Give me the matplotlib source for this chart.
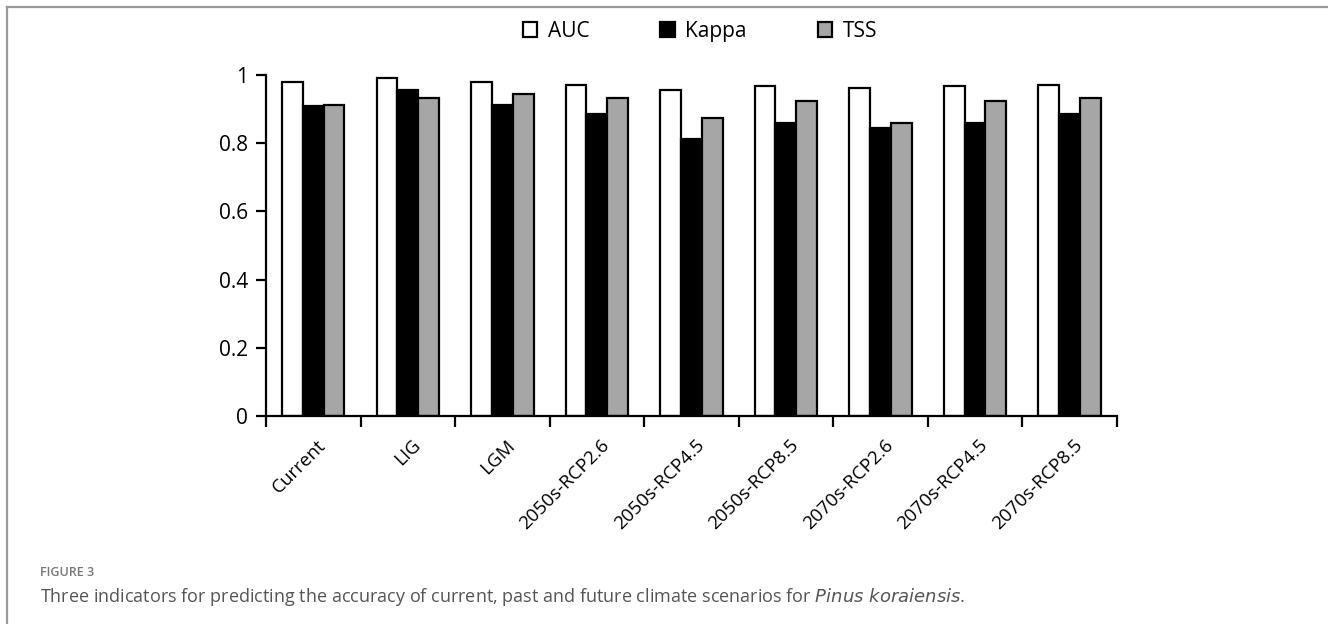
import numpy as np
import matplotlib
matplotlib.use("Agg")
import matplotlib.pyplot as plt
from matplotlib.patches import Rectangle
from matplotlib.lines import Line2D

scenarios = ["Current", "LIG", "LGM", "2050s-RCP2.6", "2050s-RCP4.5", "2050s-RCP8.5",
             "2070s-RCP2.6", "2070s-RCP4.5", "2070s-RCP8.5"]
auc = [0.981, 0.991, 0.979, 0.971, 0.957, 0.968, 0.962, 0.968, 0.973]
kappa = [0.911, 0.957, 0.912, 0.885, 0.814, 0.860, 0.846, 0.860, 0.885]
tss = [0.912, 0.932, 0.944, 0.934, 0.875, 0.924, 0.861, 0.924, 0.934]
series_names = ["AUC", "Kappa", "TSS"]
y_ticks = [0, 0.2, 0.4, 0.6, 0.8, 1]
y_tick_labels = ["0", "0.2", "0.4", "0.6", "0.8", "1"]

plt.rcParams['font.family'] = ['Open Sans', 'DejaVu Sans']

fig = plt.figure(figsize=(13.28, 6.24), dpi=100)
ax = fig.add_axes([0.2003, 0.3338, 0.6406, 0.5455])

x = np.arange(len(scenarios)) + 0.5
w = 0.22
colors = ["white", "black", "#a6a6a6"]
for k, vals in enumerate([auc, kappa, tss]):
    ax.bar(x + (k - 1) * w, vals, width=w, color=colors[k], edgecolor="black",
           linewidth=1.6, label=series_names[k], zorder=2)

ax.set_xlim(0, len(scenarios))
ax.set_ylim(0, 1)
ax.spines["top"].set_visible(False)
ax.spines["right"].set_visible(False)
for s in ["left", "bottom"]:
    ax.spines[s].set_linewidth(1.6)

ax.set_yticks(y_ticks)
ax.set_yticklabels(y_tick_labels, fontsize=15)
ax.tick_params(axis="y", direction="out", length=7, width=1.6, pad=6)

ax.set_xticks(np.arange(len(scenarios) + 1))
ax.set_xticklabels([])
ax.tick_params(axis="x", direction="out", length=8, width=1.6)
for xi, lab in zip(x, scenarios):
    ax.text(xi + 0.04, -0.06, lab, rotation=45, ha="right", va="top",
            rotation_mode="anchor", fontsize=13.5, transform=ax.transData)

handles = [Rectangle((0, 0), 1, 1, facecolor=c, edgecolor="black", linewidth=1.6)
           for c in colors]
fig.legend(handles, series_names, loc="center", bbox_to_anchor=(0.527, 0.95),
           ncol=3, frameon=False, fontsize=15, handlelength=0.7, handleheight=0.7,
           handletextpad=0.5, columnspacing=3.4)

# figure frame and caption
fig.add_artist(Line2D([0.0053, 0.0053], [0, 0.9888], color="#999999", linewidth=1.6,
                      transform=fig.transFigure))
fig.add_artist(Line2D([0.0053, 1.0], [0.9888, 0.9888], color="#999999", linewidth=1.6,
                      transform=fig.transFigure))
fig.text(0.030, 0.083, "FIGURE 3", fontsize=9, color="#777777", fontweight="semibold",
         va="center", ha="left")
fig.text(0.030, 0.044,
         "Three indicators for predicting the accuracy of current, past and future climate scenarios for $\\mathit{Pinus\\ koraiensis}$.",
         fontsize=13, color="#555555", va="center", ha="left")

fig.savefig("out.png", dpi=100)
